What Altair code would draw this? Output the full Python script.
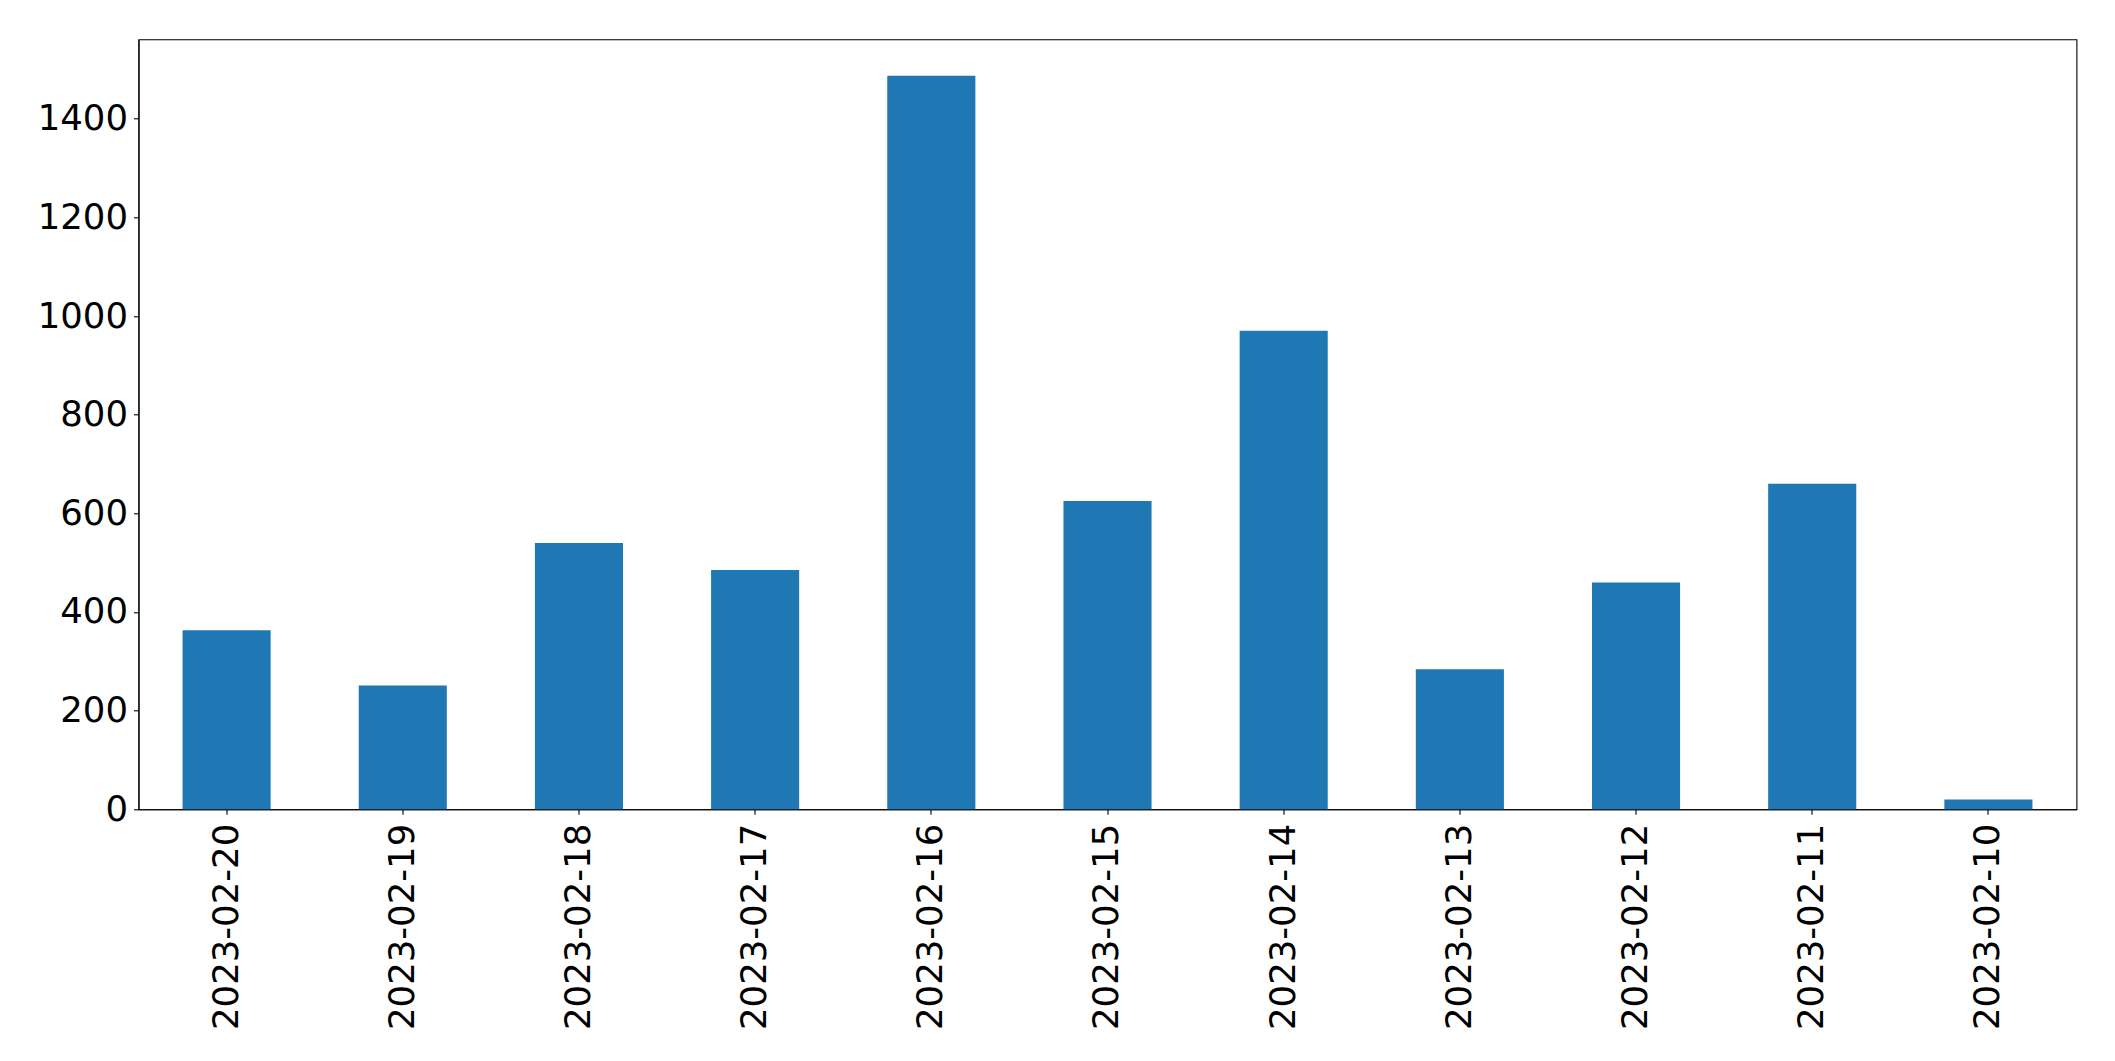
import altair as alt
import pandas as pd

dates = ["2023-02-20", "2023-02-19", "2023-02-18", "2023-02-17", "2023-02-16",
         "2023-02-15", "2023-02-14", "2023-02-13", "2023-02-12", "2023-02-11",
         "2023-02-10"]
counts = [363, 251, 540, 485, 1487, 625, 970, 284, 460, 660, 20]
y_ticks = [0, 200, 400, 600, 800, 1000, 1200, 1400]

df = pd.DataFrame({"date": dates, "count": counts})

chart = alt.Chart(df).mark_bar(color="#1f77b4").encode(
    x=alt.X("date:N", sort=dates,
            scale=alt.Scale(paddingInner=0.5, paddingOuter=0.25),
            axis=alt.Axis(title=None, labelAngle=-90, labelFontSize=35.5,
                          labelFont="DejaVu Sans", labelColor="black",
                          labelLimit=0,
                          tickColor="black", tickSize=5, tickWidth=1.1,
                          labelPadding=9, domainColor="black", domainWidth=1.1)),
    y=alt.Y("count:Q", scale=alt.Scale(domain=[0, 1561], nice=False),
            axis=alt.Axis(title=None, values=y_ticks, format="d",
                          labelFontSize=35.5,
                          labelFont="DejaVu Sans", labelColor="black",
                          tickColor="black", tickSize=5, tickWidth=1.1,
                          labelPadding=6, grid=False, domainColor="black",
                          domainWidth=1.1)),
).properties(
    width=1938, height=770,
    autosize=alt.AutoSizeParams(type="none"),
    padding={"left": 130.5, "top": 31.3, "right": 30, "bottom": 230},
).configure_view(stroke="black", strokeWidth=1.1)

chart.save("out.html", embed_options={"renderer": "svg", "actions": False})
